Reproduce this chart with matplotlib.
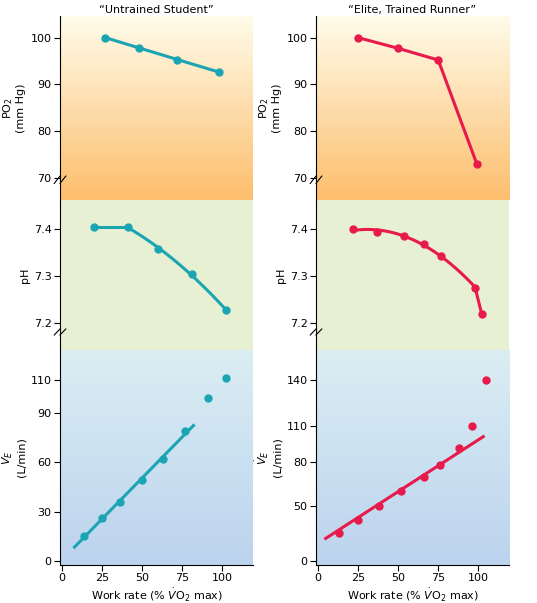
import numpy as np
import matplotlib.pyplot as plt

TEAL = "#1ba5b3"
RED = "#e8194b"

# left column: untrained student
u_po2_x = [27, 48, 72, 98]
u_po2_y = [100, 97.8, 95.3, 92.6]
u_ph_x = [20, 41, 60, 81, 102]
u_ph_y = [7.405, 7.405, 7.357, 7.305, 7.228]
u_ve_x = [14, 25, 36, 50, 63, 77, 91, 102]
u_ve_y = [15, 26, 36, 49, 62, 79, 99, 111]
u_ve_fit_n = 6  # points used for the straight line

# right column: elite runner
e_po2_x = [25, 50, 75, 99]
e_po2_y = [100, 97.7, 95.2, 73]
e_ph_x = [22, 37, 54, 66, 77, 98, 102]
e_ph_y = [7.40, 7.393, 7.385, 7.368, 7.343, 7.275, 7.22]
e_ve_x = [13, 25, 38, 52, 66, 76, 88, 96, 105]
e_ve_y = [25, 37, 50, 60, 70, 78, 92, 110, 140]
e_ve_fit_n = 6

W, H = 537, 603
fig = plt.figure(figsize=(W / 100, H / 100), dpi=100)
fig.patch.set_facecolor("white")
FS = 8


def make_ax(x0, x1, y0, y1):
    return fig.add_axes([x0 / W, 1 - y1 / H, (x1 - x0) / W, (y1 - y0) / H])


def gradient(ax, c_top, c_bot):
    a = np.array(plt.matplotlib.colors.to_rgb(c_top))
    b = np.array(plt.matplotlib.colors.to_rgb(c_bot))
    t = np.linspace(0, 1, 256)[:, None]
    img = (a * (1 - t) + b * t)[:, None, :]
    ax.imshow(img, extent=[0, 1, 0, 1], transform=ax.transAxes,
              aspect="auto", zorder=0)


def style(ax, bottom=False):
    for s in ["top", "right"]:
        ax.spines[s].set_visible(False)
    ax.set_xlim(-1, 119)
    ax.tick_params(labelsize=FS, length=4, pad=2)
    if not bottom:
        ax.spines["bottom"].set_visible(False)
        ax.set_xticks([])


def brk(ax, y):
    for dx in (-0.03, 0.0):
        ax.plot([dx, dx + 0.03], [y - 0.02, y + 0.02],
                transform=ax.transAxes, color="black", lw=0.8, clip_on=False)


cols = [(60, 253, TEAL, "“Untrained Student”",
         u_po2_x, u_po2_y, u_ph_x, u_ph_y, u_ve_x, u_ve_y, u_ve_fit_n),
        (316, 509, RED, "“Elite, Trained Runner”",
         e_po2_x, e_po2_y, e_ph_x, e_ph_y, e_ve_x, e_ve_y, e_ve_fit_n)]

for i, (x0, x1, c, title, px, py, hx, hy, vx, vy, nfit) in enumerate(cols):
    # PO2
    ax = make_ax(x0, x1, 16, 200)
    gradient(ax, "#fffcea", "#fdbe6d")
    ax.set_ylim(65.3, 104.6)
    ax.set_yticks([70, 80, 90, 100])
    ax.plot(px, py, color=c, lw=2.2, marker="o", ms=5, zorder=3)
    ax.set_ylabel("PO$_2$\n(mm Hg)", fontsize=FS, labelpad=3)
    ax.text(0.5, 1.005, title, transform=ax.transAxes, ha="center",
            va="bottom", fontsize=FS)
    style(ax)
    brk(ax, 0.11)

    # pH
    ax = make_ax(x0, x1, 200, 350)
    ax.set_facecolor("#e8f0d3")
    ax.set_ylim(7.143, 7.462)
    ax.set_yticks([7.2, 7.3, 7.4])
    if i == 0:
        xs = np.linspace(hx[1], hx[-1], 100)
        fit = np.polyfit(hx[1:], hy[1:], 2)
        ax.plot([hx[0], hx[1]], [hy[0], hy[1]], color=c, lw=2.2)
        ax.plot(xs, np.polyval(fit, xs), color=c, lw=2.2)
    else:
        xs = np.linspace(hx[0], hx[-2], 100)
        fit = np.polyfit(hx[:-1], hy[:-1], 2)
        ax.plot(xs, np.polyval(fit, xs), color=c, lw=2.2)
        ax.plot(hx[-2:], hy[-2:], color=c, lw=2.2)
    ax.plot(hx, hy, "o", color=c, ms=5, zorder=3)
    ax.set_ylabel("pH", fontsize=FS, labelpad=3)
    style(ax)
    brk(ax, 0.12)

    # VE
    ax = make_ax(x0, x1, 350, 565)
    gradient(ax, "#dbeef3", "#bcd3ee")
    if i == 0:
        ax.set_ylim(-2.4, 128)
        ax.set_yticks([0, 30, 60, 90, 110])
    else:
        tv = [0, 50, 80, 110, 140]
        tp = [0, 55, 99, 135, 181]
        f = lambda v: np.interp(v, tv, tp) + \
            np.where(np.asarray(v) > 140, (np.asarray(v) - 140) * 1.53, 0) + \
            np.where(np.asarray(v) < 0, np.asarray(v) * 1.1, 0)
        finv = lambda p: np.interp(p, tp, tv) + \
            np.where(np.asarray(p) > 181, (np.asarray(p) - 181) / 1.53, 0) + \
            np.where(np.asarray(p) < 0, np.asarray(p) / 1.1, 0)
        ax.set_yscale("function", functions=(f, finv))
        ax.set_ylim(-4, 160)
        ax.set_yticks(tv)
    fit = np.polyfit(vx[:nfit], vy[:nfit], 1)
    xl = np.array([8, 82]) if i == 0 else np.array([5, 103])
    ax.plot(xl, np.polyval(fit, xl), color=c, lw=2.2, zorder=2)
    ax.plot(vx, vy, "o", color=c, ms=5, zorder=3)
    ax.set_ylabel("$\\dot{V}_E$\n(L/min)", fontsize=FS, labelpad=3)
    ax.set_xticks([0, 25, 50, 75, 100])
    ax.set_xlabel("Work rate (% $\\dot{V}$O$_2$ max)", fontsize=FS, labelpad=2)
    style(ax, bottom=True)

fig.savefig("out.png", dpi=100)
